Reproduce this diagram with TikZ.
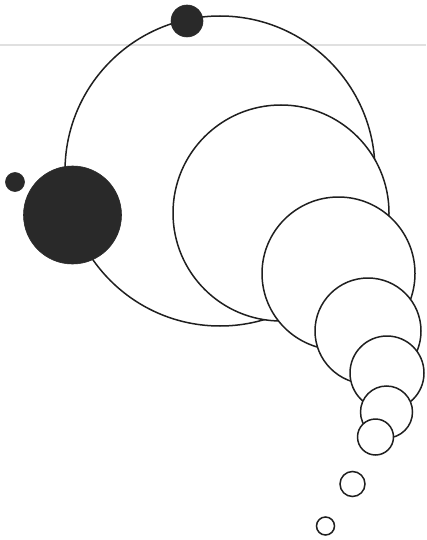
\documentclass[tikz,border=0pt]{standalone}
\begin{document}
\begin{tikzpicture}[x=1pt,y=-1pt,
  ring/.style={draw=black!88,line width=1.5pt,fill=white},
  disc/.style={fill=black!84,draw=black!84,line width=0.6pt},
  scanline/.style={draw=black!12,line width=2pt}]
\useasboundingbox (0,0) rectangle (426,540);
\fill[white] (0,0) rectangle (426,540);
\draw[scanline] (0,45) -- (426,45);
\draw[draw=black!88,line width=1.5pt] (220,171) circle (155);
\draw[ring] (281,213) circle (108);
\draw[ring] (338.5,273.5) circle (76.5);
\draw[ring] (368,331) circle (53);
\draw[ring] (387,373) circle (37);
\draw[ring] (386.5,412) circle (26);
\draw[ring] (375.5,437) circle (18);
\draw[ring] (352.5,484) circle (12.5);
\draw[ring] (325.5,526) circle (9);
\draw[disc] (187,21) circle (16);
\draw[disc] (72.5,215) circle (49);
\draw[disc] (15,182) circle (9.5);
\end{tikzpicture}
\end{document}
